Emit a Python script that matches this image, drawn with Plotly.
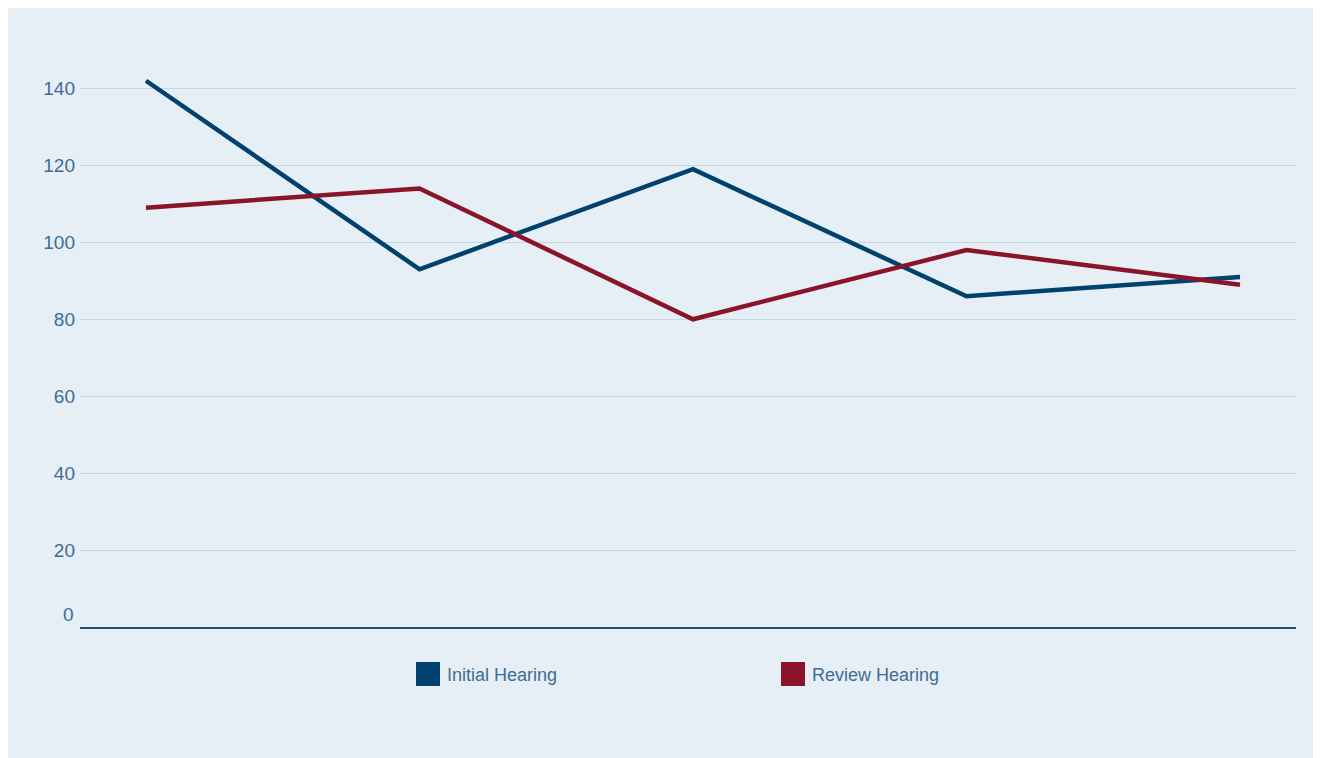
import plotly.graph_objects as go

categories = [1, 2, 3, 4, 5]
initial_hearing = [142, 93, 119, 86, 91]
review_hearing = [109, 114, 80, 98, 89]
y_ticks = [20, 40, 60, 80, 100, 120, 140]

NAVY = "#00416e"
RED = "#8a1429"
BG = "#e6eff5"
TXT = "#3d6d96"
FONT = "Liberation Sans"

OFF = 8  # page body margin
W, H = 1321 - OFF, 758 - OFF
L, T = 80 - OFF, 50 - OFF
R = W - (1296 - OFF)
B = H - (627 - OFF)
pw, ph = W - L - R, H - T - B

def px(x):
    return (x - OFF - L) / pw

def py(y):
    return (H - B - (y - OFF)) / ph

fig = go.Figure()
fig.add_trace(go.Scatter(x=categories, y=initial_hearing, mode="lines",
                         line=dict(color=NAVY, width=4.5), name="Initial Hearing",
                         showlegend=False))
fig.add_trace(go.Scatter(x=categories, y=review_hearing, mode="lines",
                         line=dict(color=RED, width=4.5), name="Review Hearing",
                         showlegend=False))

shapes = [
    dict(type="rect", xref="paper", yref="paper", x0=px(416), x1=px(440), y0=py(686), y1=py(662),
         fillcolor=NAVY, line=dict(width=0)),
    dict(type="rect", xref="paper", yref="paper", x0=px(781), x1=px(805), y0=py(686), y1=py(662),
         fillcolor=RED, line=dict(width=0)),
]
annotations = [
    dict(text="Initial Hearing", xref="paper", yref="paper", x=px(445), y=py(675),
         xanchor="left", yanchor="middle", showarrow=False, font=dict(family=FONT, size=18, color=TXT)),
    dict(text="Review Hearing", xref="paper", yref="paper", x=px(810), y=py(675),
         xanchor="left", yanchor="middle", showarrow=False, font=dict(family=FONT, size=18, color=TXT)),
    dict(text="0", xref="paper", yref="paper", x=px(76), y=py(614),
         xanchor="right", yanchor="middle", showarrow=False, font=dict(family=FONT, size=19, color=TXT)),
]

x0 = categories[0] - 66 / 273.5
x1 = categories[-1] + 56 / 273.5

fig.update_layout(
    width=W, height=H,
    margin=dict(l=L, r=R, t=T, b=B),
    paper_bgcolor=BG, plot_bgcolor=BG,
    showlegend=False,
    shapes=shapes, annotations=annotations,
    xaxis=dict(range=[x0, x1], showticklabels=False, showgrid=False, zeroline=False,
               showline=True, linecolor="#1f4f78", linewidth=1.5, ticks=""),
    yaxis=dict(range=[0, 150], tickvals=y_ticks, showgrid=True, gridcolor="#c5d8e0",
               gridwidth=1, zeroline=False, showline=False, ticks="",
               ticklabelstandoff=4,
               tickfont=dict(family=FONT, size=19, color=TXT)),
)

fig.write_html("out.html")
